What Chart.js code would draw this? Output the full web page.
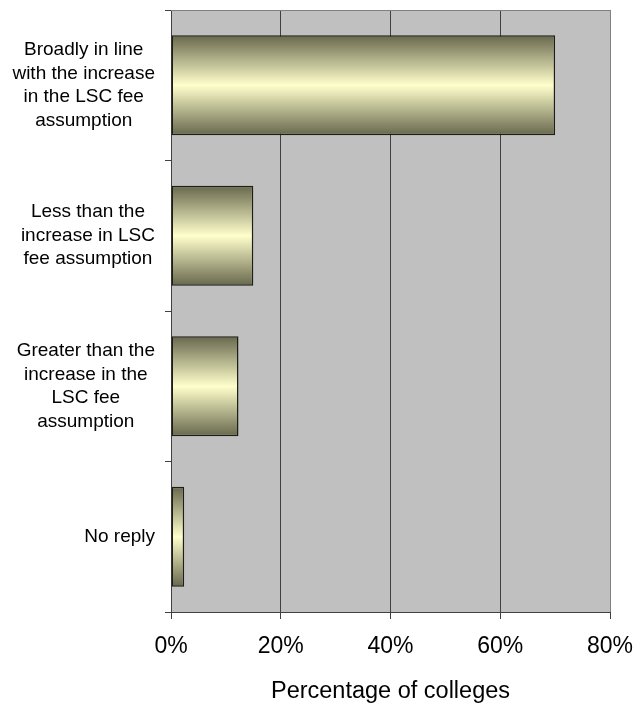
<!DOCTYPE html>
<html>
<head>
<meta charset="utf-8">
<script src="https://cdn.jsdelivr.net/npm/chart.js@4.4.1/dist/chart.umd.min.js"></script>
<style>
  body { margin: 0; background: #fff; }
  #wrap { width: 635px; height: 703px; }
</style>
</head>
<body>
<div id="wrap"><canvas id="chart" width="635" height="703"></canvas></div>
<script>
// category labels, one array of lines per bar
const categories = [
  ["Broadly in line", "with the increase", "in the LSC fee", "assumption"],
  ["Less than the", "increase in LSC", "fee assumption"],
  ["Greater than the", "increase in the", "LSC fee", "assumption"],
  ["No reply"]
];
// percentage of colleges
const percentValues = [70, 15, 12.3, 2.4];
const xTickValues = [0, 20, 40, 60, 80];

const FONT = "'Liberation Sans', Arial, sans-serif";
const BAR_PCT = 0.665;

// grey plot background + top/right frame
const plotFrame = {
  id: "plotFrame",
  beforeDraw(chart) {
    const { ctx, chartArea: a } = chart;
    ctx.save();
    ctx.fillStyle = "#C0C0C0";
    ctx.fillRect(a.left, a.top, a.right - a.left, a.bottom - a.top);
    ctx.restore();
  },
  afterDraw(chart) {
    const { ctx, chartArea: a } = chart;
    ctx.save();
    ctx.strokeStyle = "#808080";
    ctx.lineWidth = 1;
    ctx.beginPath();
    ctx.moveTo(a.left, a.top + 0.5);
    ctx.lineTo(a.right + 0.5, a.top + 0.5);
    ctx.lineTo(a.right + 0.5, a.bottom);
    ctx.stroke();
    ctx.restore();
  }
};

// Excel style labels: each block centred on itself, block right aligned
const categoryLabels = {
  id: "categoryLabels",
  afterDraw(chart) {
    const { ctx } = chart;
    const yScale = chart.scales.y;
    const rightEdge = yScale.right - 16;
    const lineH = 23.5;
    ctx.save();
    ctx.font = "19px " + FONT;
    ctx.fillStyle = "#000";
    ctx.textAlign = "center";
    ctx.textBaseline = "middle";
    categories.forEach((lines, i) => {
      const cy = yScale.getPixelForValue(i);
      const widest = Math.max(...lines.map(l => ctx.measureText(l).width));
      const cx = rightEdge - widest / 2;
      const y0 = cy - (lines.length - 1) * lineH / 2;
      lines.forEach((l, j) => ctx.fillText(l, cx, y0 + j * lineH));
    });
    ctx.restore();
  }
};

function barGradient(context) {
  const chart = context.chart;
  const yScale = chart.scales.y;
  if (!chart.chartArea || !yScale) return "#d8d8a8";
  const cy = yScale.getPixelForValue(context.dataIndex);
  const half = (yScale.height / categories.length) * BAR_PCT / 2;
  const g = chart.ctx.createLinearGradient(0, cy - half, 0, cy + half);
  g.addColorStop(0, "#67674d");
  g.addColorStop(0.5, "#ffffcc");
  g.addColorStop(1, "#67674d");
  return g;
}

new Chart(document.getElementById("chart"), {
  type: "bar",
  data: {
    labels: categories.map(c => c.join(" ")),
    datasets: [{
      data: percentValues,
      backgroundColor: barGradient,
      borderColor: "#1e1e14",
      borderWidth: 1.5,
      borderSkipped: false,
      barPercentage: BAR_PCT,
      categoryPercentage: 1
    }]
  },
  options: {
    indexAxis: "y",
    responsive: false,
    animation: false,
    layout: { padding: { top: 10, right: 0, left: 0, bottom: 0 } },
    plugins: {
      legend: { display: false },
      tooltip: { enabled: false }
    },
    scales: {
      x: {
        min: 0,
        max: 80,
        afterBuildTicks: (scale) => { scale.ticks = xTickValues.map(v => ({ value: v })); },
        afterFit: (scale) => {
          scale.height = 91;
          scale.paddingLeft = 0;
          scale.paddingRight = 25;
        },
        ticks: {
          color: "#000",
          padding: 14,
          font: { family: FONT, size: 23 },
          callback: (v) => v + "%"
        },
        grid: {
          color: (ctx) => (ctx.tick && ctx.tick.value === 80 ? "#808080" : "#404040"),
          tickColor: "#404040",
          tickLength: 7,
          lineWidth: 1
        },
        border: { display: true, color: "#404040", width: 1 },
        title: {
          display: true,
          text: "Percentage of colleges",
          color: "#000",
          font: { family: FONT, size: 23.5, lineHeight: 1 },
          padding: { top: 0, bottom: 0 }
        }
      },
      y: {
        afterFit: (scale) => { scale.width = 171; },
        ticks: { display: false },
        grid: {
          offset: true,
          drawOnChartArea: false,
          drawTicks: true,
          tickLength: 6,
          color: "#404040"
        },
        border: { display: true, color: "#404040", width: 1 }
      }
    }
  },
  plugins: [plotFrame, categoryLabels]
});
</script>
</body>
</html>
